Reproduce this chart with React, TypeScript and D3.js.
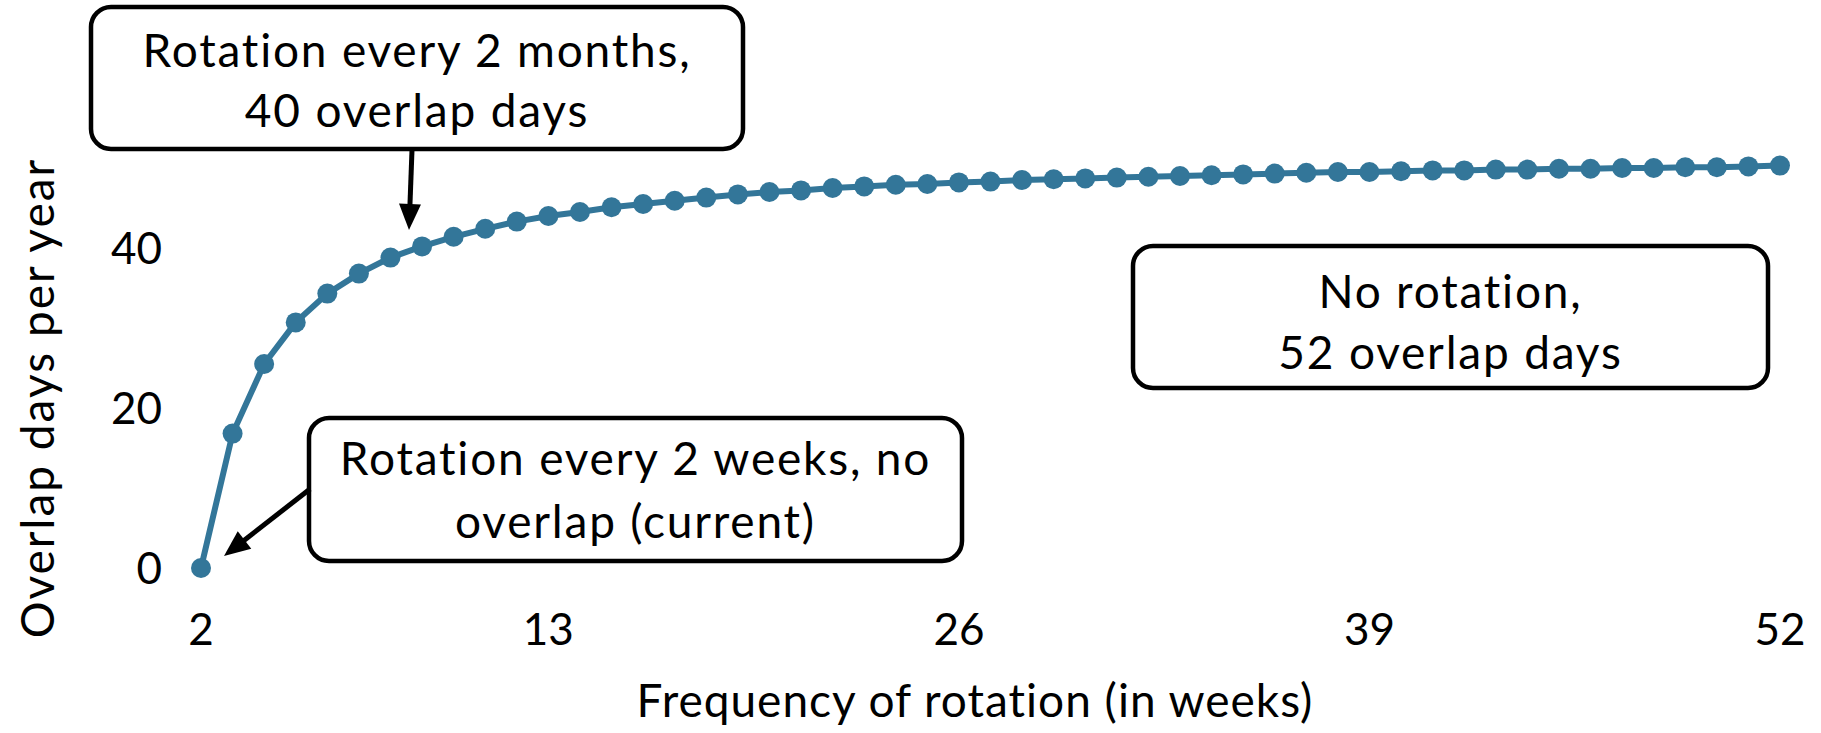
import React from "react";
import * as d3 from "d3";

const weeks: number[] = d3.range(2, 53);
const overlapDays: number[] = [
  0, 16.8, 25.5, 30.7, 34.3, 36.8, 38.8, 40.2, 41.4, 42.4, 43.3, 44.0, 44.5,
  45.1, 45.5, 45.9, 46.3, 46.7, 47.0, 47.2, 47.5, 47.7, 47.9, 48.0, 48.2, 48.3,
  48.5, 48.6, 48.7, 48.8, 48.9, 49.0, 49.1, 49.2, 49.3, 49.4, 49.5, 49.5, 49.6,
  49.7, 49.7, 49.8, 49.8, 49.9, 49.9, 50.0, 50.0, 50.1, 50.1, 50.2, 50.3,
];
const xTicks: number[] = [2, 13, 26, 39, 52];
const yTicks: number[] = [0, 20, 40];
const xTitle = "Frequency of rotation (in weeks)";
const yTitle = "Overlap days per year";

const annotations = [
  { lines: ["Rotation every 2 months,", "40 overlap days"] },
  { lines: ["Rotation every 2 weeks, no", "overlap (current)"] },
  { lines: ["No rotation,", "52 overlap days"] },
];

const FONT = "Lato, 'Open Sans', sans-serif";
const BLUE = "#337699";
const noLig: React.CSSProperties = {
  fontVariantLigatures: "none",
  fontFeatureSettings: '"liga" 0',
};

export default function App() {
  const W = 1821;
  const H = 733;
  const x = d3.scaleLinear().domain([2, 52]).range([201, 1780]);
  const y = d3.scaleLinear().domain([0, 50]).range([568, 168]);
  const data = weeks.map((w, i) => ({ w, v: overlapDays[i] }));
  const line = d3
    .line<{ w: number; v: number }>()
    .x((d) => x(d.w))
    .y((d) => y(d.v));

  const boxes = [
    { x0: 91, y0: 7, x1: 743, y1: 149, ly: [50, 110] },
    { x0: 309, y0: 418, x1: 962, y1: 561, ly: [458, 521] },
    { x0: 1133, y0: 246, x1: 1768, y1: 388, ly: [291, 352] },
  ];

  const arrows = [
    { x1: 412, y1: 150, x2: 409, y2: 230 },
    { x1: 310, y1: 489, x2: 224, y2: 556 },
  ];

  const arrowHead = (a: { x1: number; y1: number; x2: number; y2: number }) => {
    const ang = Math.atan2(a.y2 - a.y1, a.x2 - a.x1);
    const len = 26;
    const hw = 11;
    const bx = a.x2 - len * Math.cos(ang);
    const by = a.y2 - len * Math.sin(ang);
    const px = -Math.sin(ang);
    const py = Math.cos(ang);
    return `M${a.x2},${a.y2} L${bx + px * hw},${by + py * hw} L${bx - px * hw},${by - py * hw} Z`;
  };

  return (
    <svg
      width={W}
      height={H}
      style={{ position: "absolute", left: 0, top: 0, background: "#fff" }}
      fontFamily={FONT}
    >
      <rect width={W} height={H} fill="#fff" />
      {/* line and points */}
      <path d={line(data) || ""} fill="none" stroke={BLUE} strokeWidth={6} />
      {data.map((d) => (
        <circle key={d.w} cx={x(d.w)} cy={y(d.v)} r={10} fill={BLUE} />
      ))}

      {/* y tick labels */}
      {yTicks.map((t) => (
        <text
          key={"y" + t}
          x={162}
          y={y(t)}
          dy="0.36em"
          textAnchor="end"
          fontSize={44}
          fill="#000"
        >
          {t}
        </text>
      ))}
      {/* x tick labels */}
      {xTicks.map((t) => (
        <text
          key={"x" + t}
          x={x(t)}
          y={645}
          textAnchor="middle"
          fontSize={44}
          fill="#000"
        >
          {t}
        </text>
      ))}

      {/* axis titles */}
      <text
        x={975}
        y={717}
        textAnchor="middle"
        fontSize={46}
        letterSpacing={1}
        style={noLig}
        fill="#000"
      >
        {xTitle}
      </text>
      <text
        transform={`translate(54,398) rotate(-90)`}
        textAnchor="middle"
        fontSize={46}
        letterSpacing={2}
        style={noLig}
        fill="#000"
      >
        {yTitle}
      </text>

      {/* annotation boxes */}
      {boxes.map((b, i) => (
        <g key={"b" + i}>
          <rect
            x={b.x0}
            y={b.y0}
            width={b.x1 - b.x0}
            height={b.y1 - b.y0}
            rx={20}
            ry={20}
            fill="#fff"
            stroke="#000"
            strokeWidth={4.5}
          />
          {annotations[i].lines.map((l, j) => (
            <text
              key={j}
              x={(b.x0 + b.x1) / 2}
              y={b.ly[j]}
              dy="0.36em"
              textAnchor="middle"
              fontSize={46}
              letterSpacing={1.8}
              style={noLig}
              fill="#000"
            >
              {l}
            </text>
          ))}
        </g>
      ))}

      {/* arrows */}
      {arrows.map((a, i) => {
        const ang = Math.atan2(a.y2 - a.y1, a.x2 - a.x1);
        const ex = a.x2 - 20 * Math.cos(ang);
        const ey = a.y2 - 20 * Math.sin(ang);
        return (
          <g key={"a" + i}>
            <line x1={a.x1} y1={a.y1} x2={ex} y2={ey} stroke="#000" strokeWidth={5} />
            <path d={arrowHead(a)} fill="#000" />
          </g>
        );
      })}
    </svg>
  );
}
